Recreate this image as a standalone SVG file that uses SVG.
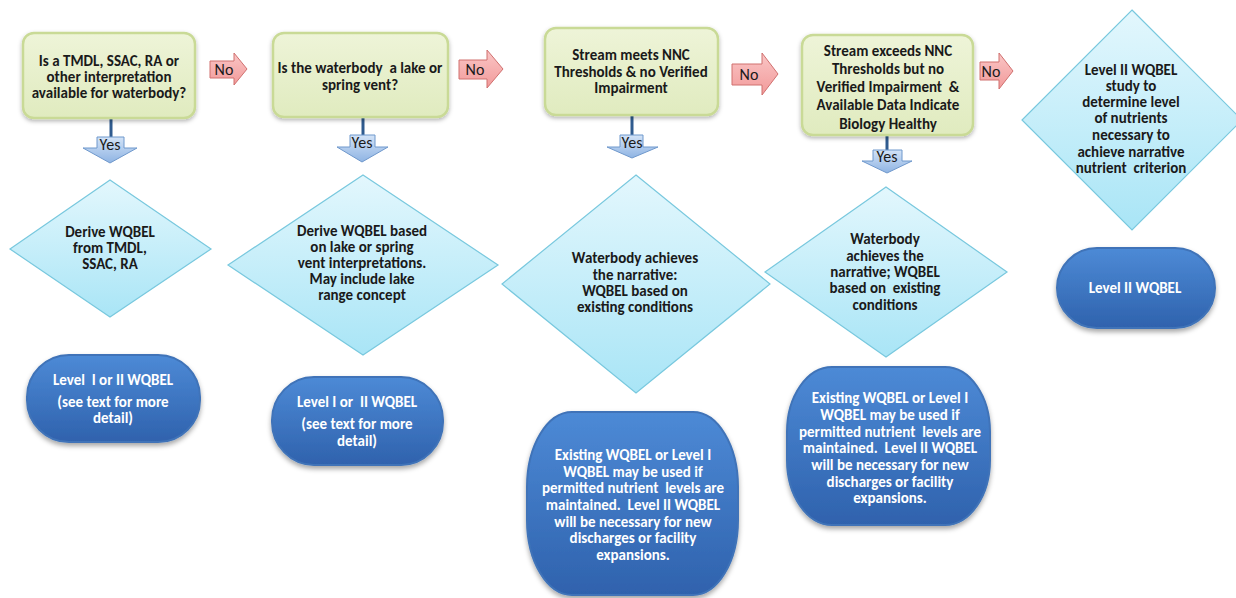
<svg xmlns="http://www.w3.org/2000/svg" width="1236" height="598" viewBox="0 0 1236 598">
<style>
.q{font-family:Carlito,"Liberation Sans",Arial,sans-serif;font-weight:bold;font-size:15px;fill:#1a1a1a;text-anchor:middle}
.w{font-family:Carlito,"Liberation Sans",Arial,sans-serif;font-weight:bold;font-size:15px;fill:#ffffff;text-anchor:middle}
.lbl{font-family:Carlito,"Liberation Sans",Arial,sans-serif;font-size:16px;fill:#1a1a1a;text-anchor:middle}
.box{fill:url(#gBox);stroke:#c9da96;stroke-width:2.5;filter:url(#sh)}
.dia{fill:url(#gDia);stroke:#78c8de;stroke-width:1.2}
.ov{fill:url(#gOv);stroke:#3f73b8;stroke-width:2;filter:url(#sh2)}
.no{fill:url(#gNo);stroke:#d0706f;stroke-width:1}
.yes{fill:url(#gYes);stroke:#6f98cc;stroke-width:1}
.stem{stroke:#2f5b8f;stroke-width:3}
</style>
<defs>
<linearGradient id="gBox" x1="0" y1="0" x2="0" y2="1"><stop offset="0" stop-color="#eef4d8"/><stop offset="1" stop-color="#e0ebbf"/></linearGradient>
<linearGradient id="gDia" x1="0" y1="0" x2="0" y2="1"><stop offset="0" stop-color="#e3f7fd"/><stop offset="1" stop-color="#a9e5f6"/></linearGradient>
<linearGradient id="gOv" x1="0" y1="0" x2="0" y2="1"><stop offset="0" stop-color="#4d8ad6"/><stop offset="1" stop-color="#2f62ad"/></linearGradient>
<linearGradient id="gNo" x1="0" y1="0" x2="0" y2="1"><stop offset="0" stop-color="#fac6c6"/><stop offset="1" stop-color="#f29a9a"/></linearGradient>
<linearGradient id="gYes" x1="0" y1="0" x2="0" y2="1"><stop offset="0" stop-color="#d3e3f7"/><stop offset="1" stop-color="#8fb4e3"/></linearGradient>
<filter id="sh" x="-10%" y="-10%" width="120%" height="130%"><feDropShadow dx="0" dy="2" stdDeviation="2" flood-color="#000" flood-opacity="0.3"/></filter>
<filter id="sh2" x="-10%" y="-10%" width="120%" height="130%"><feDropShadow dx="0" dy="3" stdDeviation="2.5" flood-color="#000" flood-opacity="0.35"/></filter>
</defs>
<rect width="1236" height="598" fill="#ffffff"/>

<g id="connectors">
<line class="stem" x1="111" y1="119" x2="111" y2="138"/>
<line class="stem" x1="363" y1="118" x2="363" y2="136"/>
<line class="stem" x1="632" y1="116" x2="632" y2="136"/>
<line class="stem" x1="887" y1="136" x2="887" y2="151"/>
<path class="no" d="M210,61 H234 V53 L247,69 L234,85 V78 H210 Z"/>
<text class="lbl" x="224" y="75">No</text>
<path class="no" d="M459,60 H487 V50 L503,69 L487,88 V79 H459 Z"/>
<text class="lbl" x="475" y="75">No</text>
<path class="no" d="M732,64 H762 V53 L778,74 L762,95 V85 H732 Z"/>
<text class="lbl" x="749" y="80">No</text>
<path class="no" d="M980,62 H999 V53 L1013,71 L999,89 V80 H980 Z"/>
<text class="lbl" x="991" y="77">No</text>
<path class="yes" d="M97,137 H124 V148 H137 L110,163 L83,148 H97 Z"/>
<text class="lbl" x="110" y="150">Yes</text>
<path class="yes" d="M350,135 H375 V147 H388 L362,162 L337,147 H350 Z"/>
<text class="lbl" x="362" y="148">Yes</text>
<path class="yes" d="M620,135 H643 V147 H658 L632,158 L607,147 H620 Z"/>
<text class="lbl" x="632" y="148">Yes</text>
<path class="yes" d="M873,150 H902 V161 H912 L887,173 L862,161 H873 Z"/>
<text class="lbl" x="887" y="162">Yes</text>
</g>

<g id="q1">
<rect class="box" x="23" y="33" width="172" height="85" rx="11"/>
<text class="q" x="109" y="66">Is a TMDL, SSAC, RA or</text>
<text class="q" x="109" y="82">other interpretation</text>
<text class="q" x="109" y="98">available for waterbody?</text>
</g>
<g id="q2">
<rect class="box" x="273" y="33" width="175" height="84" rx="11"/>
<text class="q" x="360" y="73" xml:space="preserve">Is the waterbody  a lake or</text>
<text class="q" x="360" y="90">spring vent?</text>
</g>
<g id="q3">
<rect class="box" x="545" y="28" width="173" height="87" rx="11"/>
<text class="q" x="631" y="60">Stream meets NNC</text>
<text class="q" x="631" y="77">Thresholds &amp; no Verified</text>
<text class="q" x="631" y="93">Impairment</text>
</g>
<g id="q4">
<rect class="box" x="802" y="35" width="171" height="100" rx="11"/>
<text class="q" x="888" y="56">Stream exceeds NNC</text>
<text class="q" x="888" y="74">Thresholds but no</text>
<text class="q" x="888" y="92" xml:space="preserve">Verified Impairment  &amp;</text>
<text class="q" x="888" y="110">Available Data Indicate</text>
<text class="q" x="888" y="129">Biology Healthy</text>
</g>

<g id="d1">
<polygon class="dia" points="110,180 211,249 110,317 10,249"/>
<text class="q" x="110" y="237">Derive WQBEL</text>
<text class="q" x="110" y="253">from TMDL,</text>
<text class="q" x="110" y="269">SSAC, RA</text>
</g>
<g id="d2">
<polygon class="dia" points="363,175 498,265 363,355 228,265"/>
<text class="q" x="362" y="236">Derive WQBEL based</text>
<text class="q" x="362" y="252">on lake or spring</text>
<text class="q" x="362" y="268">vent interpretations.</text>
<text class="q" x="362" y="284">May include lake</text>
<text class="q" x="362" y="300">range concept</text>
</g>
<g id="d3">
<polygon class="dia" points="636,175 770,284 636,393 502,284"/>
<text class="q" x="635" y="263">Waterbody achieves</text>
<text class="q" x="635" y="280">the narrative:</text>
<text class="q" x="635" y="296">WQBEL based on</text>
<text class="q" x="635" y="312">existing conditions</text>
</g>
<g id="d4">
<polygon class="dia" points="886,187 1007,272 886,357 765,272"/>
<text class="q" x="885" y="244">Waterbody</text>
<text class="q" x="885" y="261">achieves the</text>
<text class="q" x="885" y="277">narrative; WQBEL</text>
<text class="q" x="885" y="293" xml:space="preserve">based on  existing</text>
<text class="q" x="885" y="310">conditions</text>
</g>
<g id="d5">
<polygon class="dia" points="1132,10 1242,120 1132,230 1022,120"/>
<text class="q" x="1131" y="75">Level II WQBEL</text>
<text class="q" x="1131" y="91">study to</text>
<text class="q" x="1131" y="107">determine level</text>
<text class="q" x="1131" y="123">of nutrients</text>
<text class="q" x="1131" y="140">necessary to</text>
<text class="q" x="1131" y="157">achieve narrative</text>
<text class="q" x="1131" y="173" xml:space="preserve">nutrient  criterion</text>
</g>

<g id="o1">
<rect class="ov" x="27" y="355" width="173" height="87" rx="42" ry="42"/>
<text class="w" x="113" y="385" xml:space="preserve">Level  I or II WQBEL</text>
<text class="w" x="113" y="407">(see text for more</text>
<text class="w" x="113" y="423">detail)</text>
</g>
<g id="o2">
<rect class="ov" x="272" y="377" width="171" height="88" rx="42" ry="43"/>
<text class="w" x="357" y="407" xml:space="preserve">Level I or  II WQBEL</text>
<text class="w" x="357" y="429">(see text for more</text>
<text class="w" x="357" y="446">detail)</text>
</g>
<g id="o3">
<rect class="ov" x="527" y="412" width="211" height="183" rx="45" ry="75"/>
<text class="w" x="633" y="460">Existing WQBEL or Level I</text>
<text class="w" x="633" y="477">WQBEL may be used if</text>
<text class="w" x="633" y="493" xml:space="preserve">permitted nutrient  levels are</text>
<text class="w" x="633" y="510" xml:space="preserve">maintained.  Level II WQBEL</text>
<text class="w" x="633" y="527">will be necessary for new</text>
<text class="w" x="633" y="543">discharges or facility</text>
<text class="w" x="633" y="560">expansions.</text>
</g>
<g id="o4">
<rect class="ov" x="787" y="367" width="203" height="158" rx="45" ry="65"/>
<text class="w" x="890" y="403">Existing WQBEL or Level I</text>
<text class="w" x="890" y="420">WQBEL may be used if</text>
<text class="w" x="890" y="437" xml:space="preserve">permitted nutrient  levels are</text>
<text class="w" x="890" y="453" xml:space="preserve">maintained.  Level II WQBEL</text>
<text class="w" x="890" y="470">will be necessary for new</text>
<text class="w" x="890" y="487">discharges or facility</text>
<text class="w" x="890" y="503">expansions.</text>
</g>
<g id="o5">
<rect class="ov" x="1057" y="248" width="158" height="80" rx="40" ry="40"/>
<text class="w" x="1135" y="293">Level II WQBEL</text>
</g>
</svg>
